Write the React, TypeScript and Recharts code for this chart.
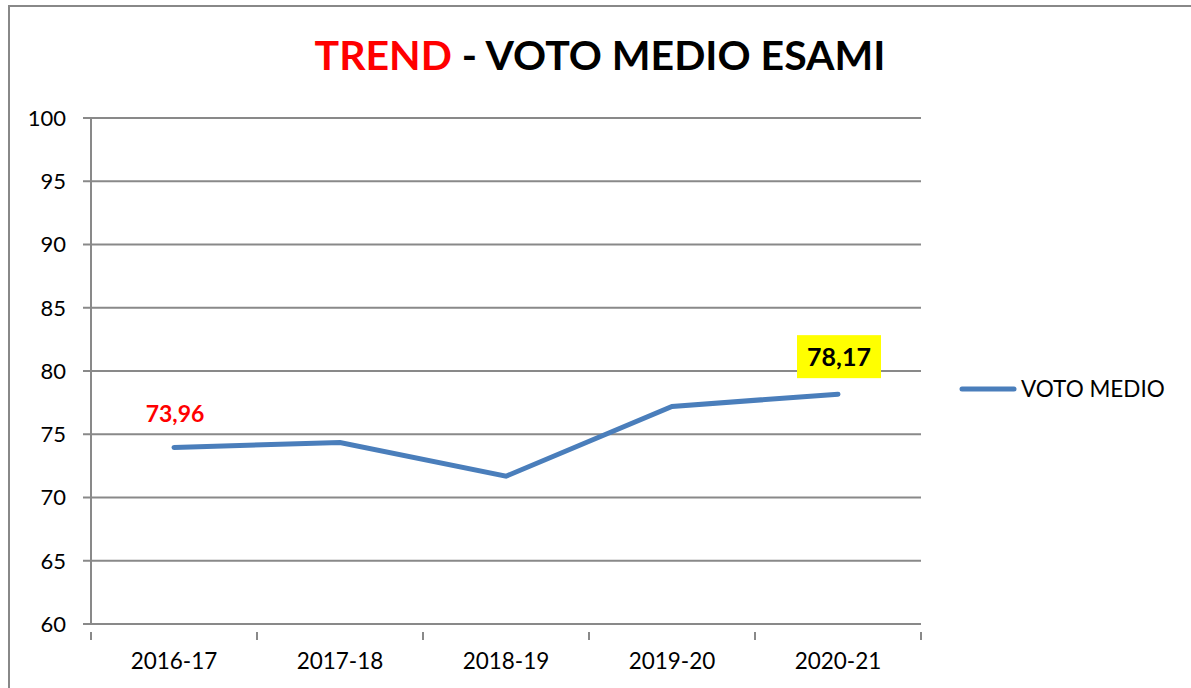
import React from 'react';
import { LineChart, Line, XAxis, YAxis, CartesianGrid, LabelList } from 'recharts';

const categories = ['2016-17', '2017-18', '2018-19', '2019-20', '2020-21'];
const votoMedio = [73.96, 74.35, 71.68, 77.2, 78.17];
const yTicks = [60, 65, 70, 75, 80, 85, 90, 95, 100];
const seriesName = 'VOTO MEDIO';

const data = categories.map((anno, i) => ({ anno, voto: votoMedio[i] }));

const FONT = 'Lato, "Open Sans", sans-serif';
const GRID = '#898989';
const BLUE = '#4A7EBB';
const PLOT_W = 830;
const BAND = PLOT_W / categories.length;

const fmt = (v: number) => v.toFixed(2).replace('.', ',');

// x ticks: label at band centre, tick marks on band edges (like Excel)
const XTick = (props: any) => {
    const { x, y, payload, index } = props;
    const left = x - BAND / 2;
    return (
        <g>
            <line x1={left} y1={y} x2={left} y2={y + 8} stroke={GRID} strokeWidth={2} />
            {index === categories.length - 1 && (
                <line x1={left + BAND} y1={y} x2={left + BAND} y2={y + 8} stroke={GRID} strokeWidth={2} />
            )}
            <text x={x} y={y + 37} textAnchor="middle" fontSize={22.5} fill="#000" fontFamily={FONT}>
                {payload.value}
            </text>
        </g>
    );
};

const ValueLabel = (props: any) => {
    const { x, y, value, index } = props;
    if (index === 0) {
        return (
            <text x={x + 1} y={y - 25} textAnchor="middle" fontSize={23} fontWeight="bold" fill="#FF0000" fontFamily={FONT}>
                {fmt(value)}
            </text>
        );
    }
    if (index === categories.length - 1) {
        return (
            <g>
                <rect x={x - 41} y={y - 59} width={84} height={43} fill="#FFFF00" />
                <text x={x + 1} y={y - 28} textAnchor="middle" fontSize={25} fontWeight="bold" fill="#000" fontFamily={FONT}>
                    {fmt(value)}
                </text>
            </g>
        );
    }
    return null;
};

export default function App() {
    return (
        <div style={{ position: 'absolute', left: 0, top: 0, width: 1191, height: 688, background: '#fff', overflow: 'hidden' }}>
            <div style={{ position: 'absolute', left: 8, top: 5, right: -10, bottom: -10, borderLeft: '2px solid #888', borderTop: '2px solid #888' }} />
            <div style={{ position: 'absolute', left: 0, width: 1200, top: 30, textAlign: 'center', fontFamily: FONT, fontWeight: 'bold', fontSize: 41 }}>
                <span style={{ color: '#FF0000' }}>TREND</span>
                <span style={{ color: '#000' }}> - VOTO MEDIO ESAMI</span>
            </div>
            <LineChart
                width={1191}
                height={688}
                data={data}
                margin={{ top: 118, right: 270, bottom: 24, left: 11 }}
                style={{ position: 'absolute', left: 0, top: 0 }}
            >
                <CartesianGrid vertical={false} stroke={GRID} strokeWidth={2} />
                <XAxis
                    dataKey="anno"
                    height={40}
                    padding={{ left: BAND / 2, right: BAND / 2 }}
                    axisLine={{ stroke: GRID, strokeWidth: 2 }}
                    tickLine={false}
                    tick={<XTick />}
                    interval={0}
                />
                <YAxis
                    width={80}
                    domain={[60, 100]}
                    ticks={yTicks}
                    interval={0}
                    axisLine={{ stroke: GRID, strokeWidth: 2 }}
                    tickLine={{ stroke: GRID, strokeWidth: 2 }}
                    tickSize={8}
                    tickMargin={17}
                    tick={{ fontSize: 22, fill: '#000', fontFamily: FONT }}
                />
                <Line
                    type="linear"
                    dataKey="voto"
                    name={seriesName}
                    stroke={BLUE}
                    strokeWidth={5}
                    strokeLinecap="round"
                    dot={false}
                    activeDot={false}
                    isAnimationActive={false}
                >
                    <LabelList dataKey="voto" content={<ValueLabel />} />
                </Line>
            </LineChart>
            <svg width={230} height={30} style={{ position: 'absolute', left: 958, top: 374 }}>
                <line x1={4} y1={15} x2={56} y2={15} stroke={BLUE} strokeWidth={5} strokeLinecap="round" />
                <text x={63} y={23} fontSize={22.5} fill="#000" fontFamily={FONT}>{seriesName}</text>
            </svg>
        </div>
    );
}
